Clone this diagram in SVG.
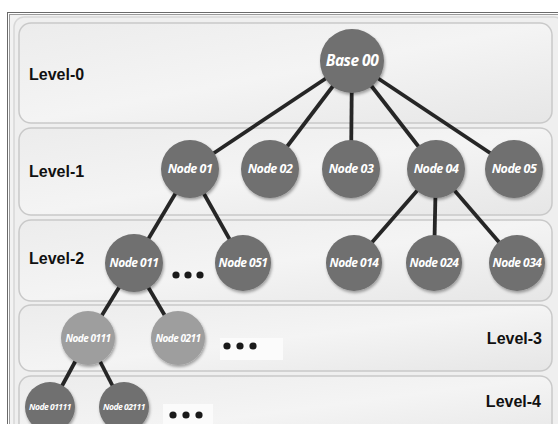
<svg xmlns="http://www.w3.org/2000/svg" width="558" height="424" viewBox="0 0 558 424">
<defs>
<linearGradient id="bandg" x1="0" y1="0" x2="1" y2="1">
<stop offset="0" stop-color="#ececec"/>
<stop offset="0.5" stop-color="#f4f4f4"/>
<stop offset="1" stop-color="#e6e6e6"/>
</linearGradient>
<filter id="sh" x="-30%" y="-30%" width="160%" height="160%">
<feDropShadow dx="1" dy="2" stdDeviation="1.8" flood-color="#000" flood-opacity="0.35"/>
</filter>
</defs>
<style>
.band{fill:url(#bandg);stroke:#c9c9c9;stroke-width:1.5}
.lvl{font-family:"Liberation Sans",Arial,sans-serif;font-weight:bold;font-size:16px;fill:#111}
.n{fill:#6f6f6f;filter:url(#sh)}
.nl{fill:#9e9e9e;filter:url(#sh)}
.t{font-family:"Open Sans","DejaVu Sans",sans-serif;font-weight:bold;font-style:italic;fill:#fff;text-anchor:middle;letter-spacing:-0.5px}
.c line{stroke:#262626;stroke-width:3.8}
.dot{fill:#1a1a1a}
</style>
<rect x="0" y="0" width="558" height="424" fill="#fff"/>
<rect x="7.5" y="12.5" width="560" height="420" fill="none" stroke="#6a6a6a" stroke-width="1"/>
<rect x="9.5" y="14.5" width="560" height="420" fill="#f2f2f2" stroke="#9a9a9a" stroke-width="1"/>
<rect x="14" y="17" width="550" height="430" rx="10" fill="#efefef" stroke="#d8d8d8" stroke-width="1.5"/>

<g id="bands">
<rect class="band" x="19" y="23" width="533" height="100" rx="12"/>
<rect class="band" x="19" y="128" width="533" height="87" rx="12"/>
<rect class="band" x="19" y="220" width="533" height="81" rx="12"/>
<rect class="band" x="19" y="305" width="533" height="66" rx="12"/>
<rect class="band" x="19" y="376" width="533" height="70" rx="12"/>
</g>

<g id="labels">
<text class="lvl" x="29" y="80">Level-0</text>
<text class="lvl" x="29" y="177">Level-1</text>
<text class="lvl" x="29" y="264">Level-2</text>
<text class="lvl" x="542" y="344" text-anchor="end">Level-3</text>
<text class="lvl" x="541" y="407" text-anchor="end">Level-4</text>
</g>

<g id="connectors" class="c">
<line x1="352" y1="61" x2="190" y2="169"/>
<line x1="352" y1="61" x2="270" y2="169"/>
<line x1="352" y1="61" x2="351" y2="169"/>
<line x1="352" y1="61" x2="436" y2="169"/>
<line x1="352" y1="61" x2="514" y2="169"/>
<line x1="190" y1="169" x2="134" y2="263"/>
<line x1="190" y1="169" x2="243" y2="263"/>
<line x1="436" y1="169" x2="354" y2="263"/>
<line x1="436" y1="169" x2="434" y2="263"/>
<line x1="436" y1="169" x2="517" y2="263"/>
<line x1="134" y1="263" x2="88" y2="338"/>
<line x1="134" y1="263" x2="178" y2="338"/>
<line x1="88" y1="338" x2="50" y2="408"/>
<line x1="88" y1="338" x2="124" y2="408"/>
</g>

<g id="base00"><circle class="n" cx="352" cy="61" r="32"/><text class="t" x="352" y="66" font-size="15.5">Base 00</text></g>
<g id="node01"><circle class="n" cx="190" cy="169" r="29"/><text class="t" x="190" y="173" font-size="12.5">Node 01</text></g>
<g id="node02"><circle class="n" cx="270" cy="169" r="29"/><text class="t" x="270" y="173" font-size="12.5">Node 02</text></g>
<g id="node03"><circle class="n" cx="351" cy="169" r="29"/><text class="t" x="351" y="173" font-size="12.5">Node 03</text></g>
<g id="node04"><circle class="n" cx="436" cy="169" r="29"/><text class="t" x="436" y="173" font-size="12.5">Node 04</text></g>
<g id="node05"><circle class="n" cx="514" cy="169" r="29"/><text class="t" x="514" y="173" font-size="12.5">Node 05</text></g>

<g id="node011"><circle class="n" cx="134" cy="263" r="29"/><text class="t" x="134" y="267" font-size="12">Node 011</text></g>
<g id="dots2"><circle class="dot" cx="176" cy="275" r="3.6"/><circle class="dot" cx="188" cy="275" r="3.6"/><circle class="dot" cx="200" cy="275" r="3.6"/></g>
<g id="node051"><circle class="n" cx="243" cy="263" r="28"/><text class="t" x="243" y="267" font-size="12">Node 051</text></g>
<g id="node014"><circle class="n" cx="354" cy="263" r="28"/><text class="t" x="354" y="267" font-size="12">Node 014</text></g>
<g id="node024"><circle class="n" cx="434" cy="263" r="28"/><text class="t" x="434" y="267" font-size="12">Node 024</text></g>
<g id="node034"><circle class="n" cx="517" cy="263" r="28"/><text class="t" x="517" y="267" font-size="12">Node 034</text></g>

<g id="node0111"><circle class="nl" cx="88" cy="338" r="27"/><text class="t" x="88" y="342" font-size="10">Node 0111</text></g>
<g id="node0211"><circle class="nl" cx="178" cy="338" r="27"/><text class="t" x="178" y="342" font-size="10">Node 0211</text></g>
<g id="dots3"><rect x="220" y="338" width="63" height="22" fill="#fbfbfb"/><circle class="dot" cx="227" cy="346" r="3.6"/><circle class="dot" cx="240" cy="346" r="3.6"/><circle class="dot" cx="253" cy="346" r="3.6"/></g>

<g id="node01111"><circle class="n" cx="50" cy="407" r="25"/><text class="t" x="50" y="410" font-size="8.5">Node 01111</text></g>
<g id="node02111"><circle class="n" cx="124" cy="407" r="25"/><text class="t" x="124" y="410" font-size="8.5">Node 02111</text></g>
<g id="dots4"><rect x="163" y="404" width="50" height="22" fill="#fbfbfb"/><circle class="dot" cx="173" cy="415" r="3.6"/><circle class="dot" cx="186" cy="415" r="3.6"/><circle class="dot" cx="199" cy="415" r="3.6"/></g>
</svg>
